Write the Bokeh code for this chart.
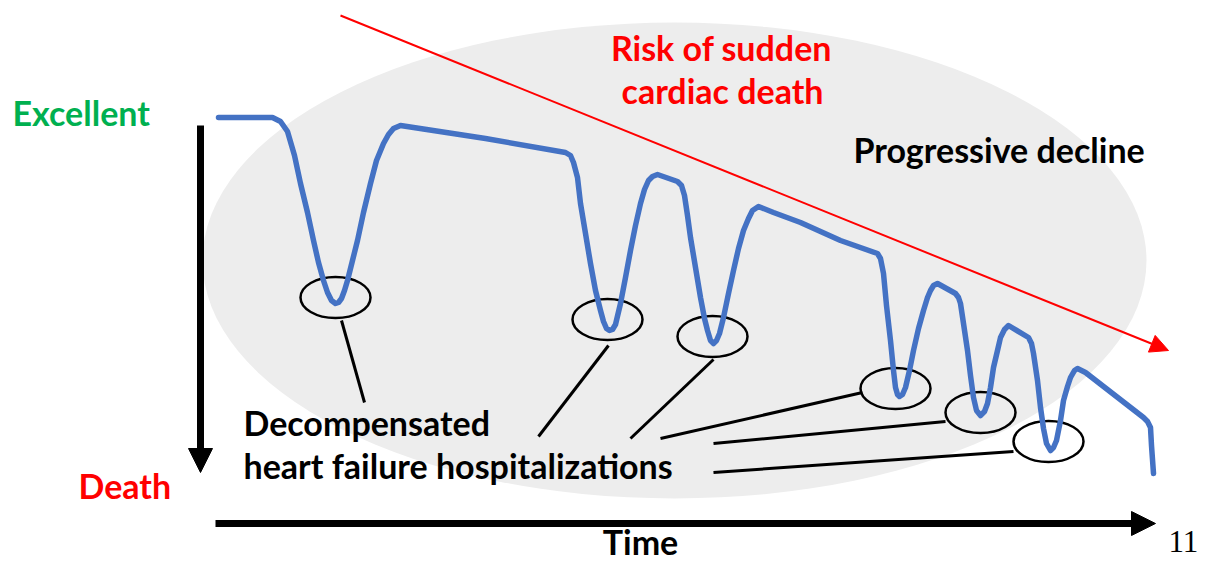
from bokeh.plotting import figure
from bokeh.models import Range1d, Arrow, NormalHead, ColumnDataSource
from bokeh.core.properties import value
from bokeh.embed import file_html
from bokeh.resources import INLINE

# ---- data (diagram space: x to the right, y downward, in picture pixels) ----
curve_x = [218, 272, 280, 287, 294, 300, 307, 313, 318, 323, 327, 331, 335, 338, 341, 344, 347, 352, 357, 363,
           370, 376, 383, 388, 393, 400, 485, 565, 570, 573, 577, 580, 585, 590, 595, 600, 603, 606, 609, 612,
           615, 620, 625, 630, 635, 640, 644, 648, 652, 657, 677, 681, 684, 687, 690, 695, 700, 704, 707, 710,
           713, 716, 719, 723, 728, 733, 738, 743, 748, 752, 758, 773, 800, 840, 877, 880, 883, 886, 890, 893,
           895, 897, 899, 902, 905, 909, 913, 918, 923, 927, 930, 933, 937, 955, 958, 960, 963, 967, 970, 973,
           976, 980, 984, 987, 990, 993, 997, 1000, 1004, 1008, 1028, 1031, 1033, 1037, 1040, 1043, 1046, 1050,
           1053, 1056, 1060, 1063, 1067, 1070, 1074, 1077, 1085, 1143, 1147, 1150, 1151, 1153]
curve_y = [117, 117, 121, 131, 155, 183, 212, 240, 262, 280, 292, 300, 303, 302, 298, 290, 280, 260, 240, 212,
           183, 160, 143, 134, 128, 125, 138, 152, 155, 162, 177, 203, 233, 263, 290, 310, 321, 328, 330, 329,
           324, 303, 277, 250, 225, 203, 189, 180, 176, 174, 181, 185, 195, 215, 237, 267, 297, 318, 330, 340,
           343, 340, 333, 317, 293, 270, 248, 230, 218, 210, 206, 212, 222, 240, 253, 258, 273, 305, 340, 370,
           387, 394, 396, 394, 387, 370, 350, 328, 310, 297, 290, 285, 283, 293, 297, 303, 323, 350, 375, 397,
           410, 415, 411, 403, 387, 367, 350, 337, 329, 325, 337, 343, 353, 380, 407, 428, 443, 450,
           447, 440, 420, 400, 386, 377, 370, 368, 372, 417, 421, 427, 445, 473]

hosp_x = [335, 607, 712, 895, 980, 1048]
hosp_y = [297, 319, 336, 388, 412, 441]

link_x0 = [341, 608, 713, 660, 713, 713]
link_y0 = [320, 345, 359, 438, 443, 472]
link_x1 = [364, 538, 630, 862, 945, 1013]
link_y1 = [402, 436, 438, 392, 421, 451]

cloud_center = (674, 260)
cloud_size = (944, 476)

risk_start = (340, 15)
risk_end = (1168, 350)
health_start = (200, 125)
health_end = (200, 472)
time_start = (215, 523)
time_end = (1155, 523)

green_labels = ["Excellent"]
green_x, green_y = [12], [112]
red_side_labels = ["Death"]
red_side_x, red_side_y = [78], [485]
risk_labels = ["Risk of sudden", "cardiac death"]
risk_x, risk_y = [721, 722], [47, 90]
black_left_labels = ["Progressive decline", "Decompensated", "heart failure hospitalizations"]
black_left_x, black_left_y = [853, 243, 243], [149, 422, 465]
time_labels = ["Time"]
time_x, time_y = [640], [541]
page_labels = ["11"]
page_x, page_y = [1168], [541]

BLUE = "#4472C4"
RED = "#FF0000"
GREEN = "#00B050"
GRAY = "#EDEDED"
FONT = "Lato"
FS = "34px"

p = figure(width=1210, height=562, x_range=Range1d(0, 1210), y_range=Range1d(562, 0),
           output_backend="svg", toolbar_location=None, min_border=0)
p.axis.visible = False
p.grid.visible = False
p.outline_line_color = None
p.background_fill_color = "white"
p.border_fill_color = "white"

p.ellipse(x=[cloud_center[0]], y=[cloud_center[1]], width=[cloud_size[0]], height=[cloud_size[1]],
          fill_color=GRAY, line_color=None)

p.segment(x0=link_x0, y0=link_y0, x1=link_x1, y1=link_y1, line_color="black", line_width=3)
p.ellipse(x=hosp_x, y=hosp_y, width=70, height=41, fill_color=None, line_color="black", line_width=2.5)

p.line(curve_x, curve_y, line_color=BLUE, line_width=5.5, line_join="round", line_cap="round")

p.add_layout(Arrow(x_start=risk_start[0], y_start=risk_start[1], x_end=risk_end[0], y_end=risk_end[1],
                   line_color=RED, line_width=2,
                   end=NormalHead(size=18, fill_color=RED, line_color=RED, line_width=1)))
p.add_layout(Arrow(x_start=health_start[0], y_start=health_start[1], x_end=health_end[0], y_end=health_end[1],
                   line_color="black", line_width=7,
                   end=NormalHead(size=24, fill_color="black", line_color="black", line_width=1)))
p.add_layout(Arrow(x_start=time_start[0], y_start=time_start[1], x_end=time_end[0], y_end=time_end[1],
                   line_color="black", line_width=7,
                   end=NormalHead(size=24, fill_color="black", line_color="black", line_width=1)))

def txt(xs, ys, labels, color, align="left", font=FONT, style="bold", size=FS):
    src = ColumnDataSource(dict(x=xs, y=ys, t=labels))
    p.text(x="x", y="y", text="t", source=src, text_color=color, text_align=align,
           text_baseline="alphabetic", text_font=value(font), text_font_style=style,
           text_font_size=size)

txt(green_x, green_y, green_labels, GREEN)
txt(red_side_x, red_side_y, red_side_labels, RED)
txt(risk_x, risk_y, risk_labels, RED, align="center")
txt(black_left_x, black_left_y, black_left_labels, "black")
txt(time_x, time_y, time_labels, "black", align="center")
txt(page_x, page_y, page_labels, "black", font="Liberation Serif", style="normal", size="31px")

open("out.html", "w").write(file_html(p, INLINE))
